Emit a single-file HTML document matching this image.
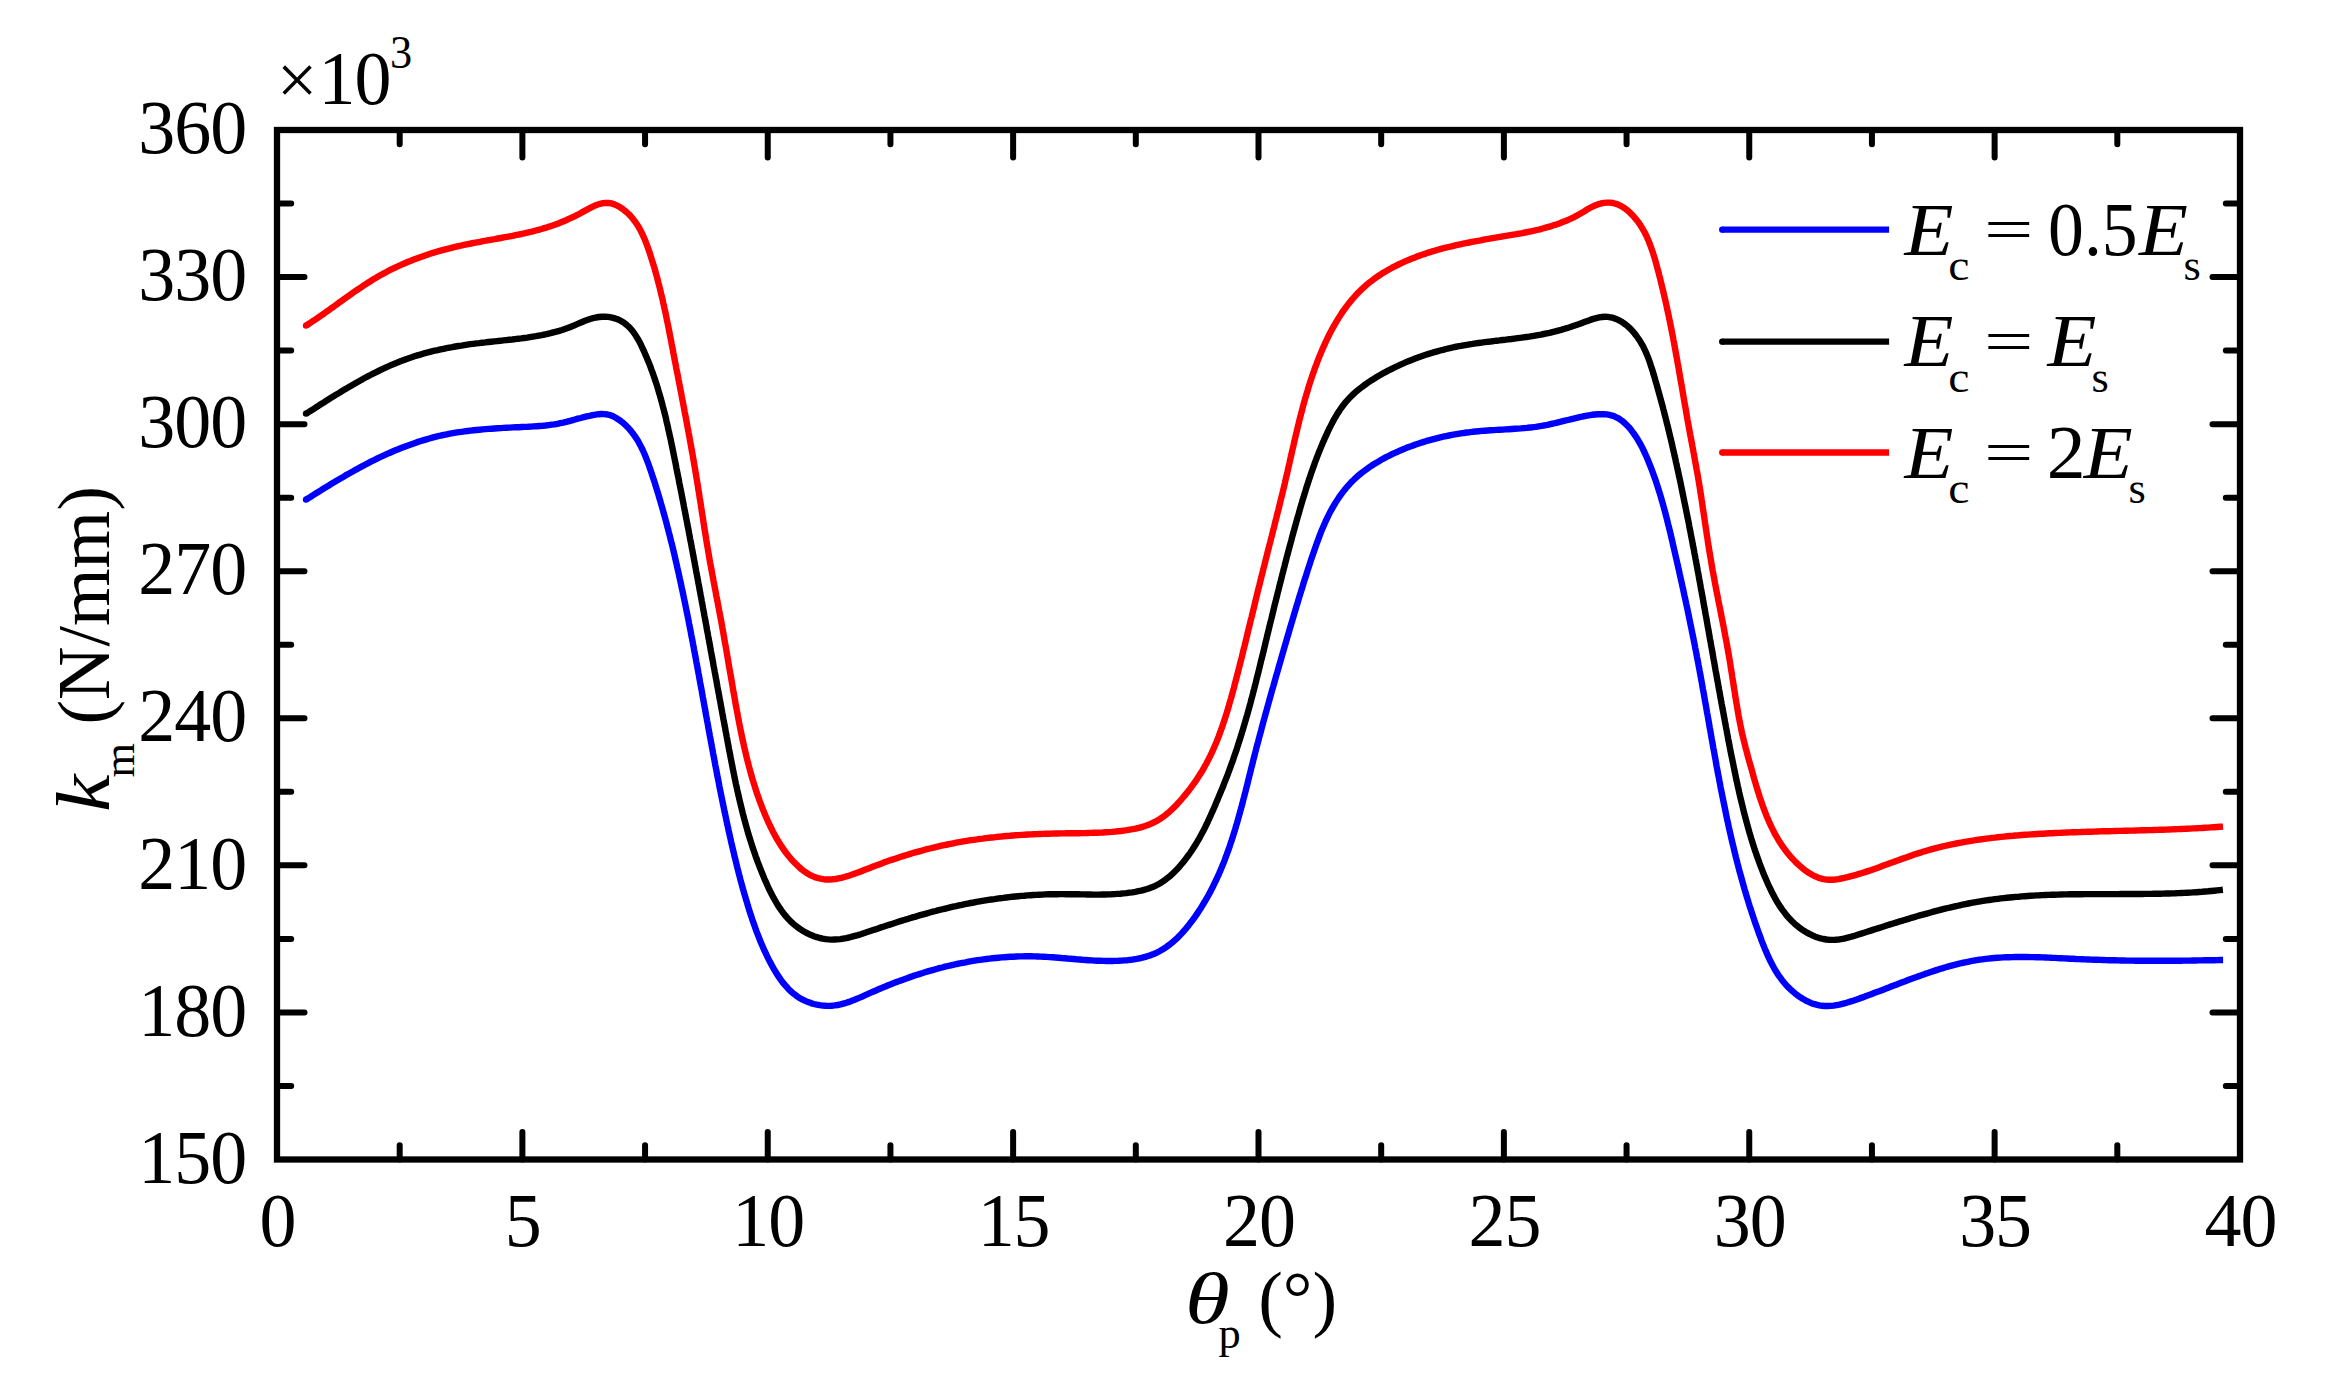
<!DOCTYPE html>
<html lang="en"><head><meta charset="utf-8"><title>Mesh stiffness</title>
<style>html,body{margin:0;padding:0;background:#fff}body{width:2325px;height:1397px;overflow:hidden}svg{display:block}text{font-family:"Liberation Serif",serif;fill:#000}.i{font-style:italic}</style></head><body>
<svg width="2325" height="1397" viewBox="0 0 2325 1397">
<rect width="2325" height="1397" fill="#fff"/>
<path d="M399.69 1159.50V1145.30M399.69 130.00V144.20M522.38 1159.50V1132.00M522.38 130.00V157.50M645.06 1159.50V1145.30M645.06 130.00V144.20M767.75 1159.50V1132.00M767.75 130.00V157.50M890.44 1159.50V1145.30M890.44 130.00V144.20M1013.12 1159.50V1132.00M1013.12 130.00V157.50M1135.81 1159.50V1145.30M1135.81 130.00V144.20M1258.50 1159.50V1132.00M1258.50 130.00V157.50M1381.19 1159.50V1145.30M1381.19 130.00V144.20M1503.88 1159.50V1132.00M1503.88 130.00V157.50M1626.56 1159.50V1145.30M1626.56 130.00V144.20M1749.25 1159.50V1132.00M1749.25 130.00V157.50M1871.94 1159.50V1145.30M1871.94 130.00V144.20M1994.62 1159.50V1132.00M1994.62 130.00V157.50M2117.31 1159.50V1145.30M2117.31 130.00V144.20M277.00 1085.96H291.20M2240.00 1085.96H2225.80M277.00 1012.43H304.50M2240.00 1012.43H2212.50M277.00 938.89H291.20M2240.00 938.89H2225.80M277.00 865.36H304.50M2240.00 865.36H2212.50M277.00 791.82H291.20M2240.00 791.82H2225.80M277.00 718.29H304.50M2240.00 718.29H2212.50M277.00 644.75H291.20M2240.00 644.75H2225.80M277.00 571.21H304.50M2240.00 571.21H2212.50M277.00 497.68H291.20M2240.00 497.68H2225.80M277.00 424.14H304.50M2240.00 424.14H2212.50M277.00 350.61H291.20M2240.00 350.61H2225.80M277.00 277.07H304.50M2240.00 277.07H2212.50M277.00 203.54H291.20M2240.00 203.54H2225.80" fill="none" stroke="#000" stroke-width="6.00" stroke-linecap="round"/>
<g fill="none" stroke-width="6.40" stroke-linejoin="round">
<path stroke="#0000ff" d="M306.1 499.6L308.6 498.1L311.1 496.5L313.6 494.9L316.1 493.3L318.7 491.7L321.2 490.1L323.7 488.5L326.3 487.0L328.9 485.4L331.4 483.8L334.0 482.3L336.6 480.7L339.2 479.2L341.8 477.7L344.4 476.2L347.0 474.6L349.6 473.2L352.3 471.7L354.9 470.2L357.6 468.8L360.2 467.3L362.9 465.9L365.5 464.5L368.2 463.1L370.9 461.7L373.6 460.4L376.3 459.0L379.0 457.7L381.8 456.4L384.5 455.2L387.2 453.9L390.0 452.7L392.7 451.5L395.5 450.3L398.3 449.2L401.1 448.1L403.9 447.0L406.7 445.9L409.5 444.9L412.3 443.9L415.1 442.9L418.0 441.9L420.8 441.0L423.7 440.1L426.5 439.3L429.4 438.5L432.3 437.7L435.2 436.9L438.1 436.2L441.0 435.5L443.9 434.9L446.9 434.3L449.8 433.7L452.8 433.2L455.7 432.7L458.7 432.2L461.6 431.8L464.6 431.4L467.6 431.0L470.6 430.6L473.6 430.3L476.6 430.0L479.6 429.7L482.6 429.4L485.6 429.1L488.6 428.9L491.6 428.7L494.6 428.5L497.6 428.3L500.6 428.1L503.6 427.9L506.7 427.7L509.7 427.6L512.7 427.4L515.7 427.3L518.7 427.2L521.7 427.0L524.7 426.9L527.7 426.8L530.7 426.6L533.7 426.4L536.7 426.2L539.6 426.0L542.6 425.8L545.6 425.5L548.5 425.1L551.5 424.7L554.4 424.3L557.4 423.8L560.3 423.2L563.2 422.6L566.2 421.9L569.1 421.1L572.0 420.3L574.9 419.5L577.8 418.7L580.8 418.0L583.7 417.2L586.7 416.4L589.6 415.8L592.6 415.1L595.6 414.6L598.6 414.2L601.6 414.0L604.5 414.1L607.5 414.5L610.3 415.2L613.1 416.3L615.8 417.8L618.4 419.4L620.9 421.2L623.3 423.1L625.5 425.1L627.6 427.2L629.6 429.4L631.5 431.6L633.3 434.0L635.0 436.4L636.6 438.8L638.2 441.3L639.6 443.9L641.0 446.6L642.3 449.2L643.6 452.0L644.8 454.7L645.9 457.5L647.0 460.3L648.1 463.2L649.1 466.0L650.1 468.9L651.1 471.8L652.1 474.7L653.0 477.6L654.0 480.4L654.9 483.3L655.8 486.2L656.7 489.1L657.6 492.0L658.5 494.9L659.3 497.8L660.2 500.7L661.0 503.6L661.9 506.5L662.7 509.4L663.5 512.3L664.3 515.2L665.1 518.1L665.9 521.0L666.7 523.9L667.4 526.8L668.2 529.7L668.9 532.6L669.7 535.5L670.4 538.4L671.1 541.3L671.9 544.2L672.6 547.1L673.3 550.0L674.0 553.0L674.7 555.9L675.3 558.8L676.0 561.7L676.7 564.6L677.3 567.5L678.0 570.5L678.7 573.4L679.3 576.3L679.9 579.2L680.6 582.2L681.2 585.1L681.8 588.0L682.5 591.0L683.1 593.9L683.7 596.8L684.3 599.8L684.9 602.7L685.5 605.6L686.1 608.6L686.7 611.5L687.3 614.4L687.9 617.4L688.5 620.3L689.0 623.3L689.6 626.2L690.2 629.2L690.8 632.1L691.3 635.1L691.9 638.0L692.5 641.0L693.0 643.9L693.6 646.9L694.1 649.8L694.7 652.8L695.2 655.7L695.8 658.7L696.3 661.6L696.9 664.6L697.4 667.5L698.0 670.5L698.5 673.4L699.1 676.4L699.6 679.4L700.1 682.3L700.7 685.3L701.2 688.2L701.8 691.2L702.3 694.1L702.8 697.1L703.4 700.1L703.9 703.0L704.4 706.0L705.0 708.9L705.5 711.9L706.0 714.9L706.6 717.8L707.1 720.8L707.7 723.7L708.2 726.7L708.7 729.7L709.3 732.6L709.8 735.6L710.4 738.5L710.9 741.5L711.5 744.4L712.0 747.4L712.6 750.4L713.1 753.3L713.7 756.3L714.2 759.2L714.8 762.2L715.3 765.1L715.9 768.1L716.5 771.0L717.0 774.0L717.6 777.0L718.2 779.9L718.8 782.9L719.3 785.8L719.9 788.8L720.5 791.7L721.1 794.6L721.7 797.6L722.3 800.5L722.9 803.5L723.5 806.4L724.1 809.4L724.7 812.3L725.4 815.3L726.0 818.2L726.6 821.1L727.2 824.1L727.9 827.0L728.5 829.9L729.2 832.9L729.8 835.8L730.5 838.7L731.1 841.7L731.8 844.6L732.5 847.5L733.2 850.4L733.9 853.4L734.5 856.3L735.3 859.2L736.0 862.1L736.7 865.0L737.4 868.0L738.2 870.9L738.9 873.8L739.7 876.7L740.4 879.6L741.2 882.5L742.0 885.4L742.8 888.3L743.6 891.1L744.4 894.0L745.3 896.9L746.1 899.8L747.0 902.6L747.8 905.5L748.7 908.4L749.6 911.2L750.5 914.1L751.5 916.9L752.4 919.8L753.4 922.6L754.4 925.4L755.4 928.3L756.4 931.1L757.5 933.9L758.6 936.7L759.7 939.5L760.8 942.2L762.0 945.0L763.2 947.8L764.4 950.5L765.7 953.2L767.0 956.0L768.3 958.7L769.7 961.4L771.2 964.1L772.6 966.7L774.1 969.4L775.7 972.0L777.3 974.6L779.0 977.1L780.7 979.6L782.5 982.1L784.4 984.4L786.4 986.7L788.4 988.9L790.5 991.0L792.7 992.9L795.1 994.8L797.5 996.6L800.0 998.2L802.6 999.6L805.3 1000.9L808.1 1002.1L810.9 1003.1L813.8 1004.0L816.8 1004.7L819.7 1005.2L822.7 1005.6L825.7 1005.8L828.7 1005.9L831.7 1005.7L834.6 1005.4L837.6 1005.0L840.5 1004.4L843.3 1003.6L846.2 1002.8L849.0 1001.9L851.9 1000.8L854.7 999.7L857.5 998.6L860.3 997.4L863.1 996.2L865.9 994.9L868.6 993.7L871.4 992.4L874.2 991.2L877.0 990.0L879.8 988.8L882.6 987.6L885.4 986.5L888.2 985.3L891.0 984.2L893.8 983.1L896.6 982.0L899.4 981.0L902.2 979.9L905.0 978.9L907.8 977.9L910.7 976.9L913.5 975.9L916.3 975.0L919.2 974.1L922.0 973.2L924.9 972.3L927.8 971.4L930.6 970.6L933.5 969.8L936.4 969.0L939.3 968.2L942.2 967.5L945.1 966.7L948.0 966.0L950.9 965.3L953.9 964.7L956.8 964.0L959.7 963.4L962.7 962.8L965.6 962.3L968.6 961.7L971.6 961.2L974.5 960.7L977.5 960.2L980.5 959.8L983.5 959.4L986.4 959.0L989.4 958.6L992.4 958.3L995.4 958.0L998.4 957.7L1001.4 957.4L1004.4 957.2L1007.4 957.0L1010.4 956.8L1013.4 956.7L1016.4 956.5L1019.4 956.4L1022.5 956.4L1025.5 956.3L1028.5 956.3L1031.5 956.3L1034.5 956.4L1037.5 956.5L1040.5 956.6L1043.5 956.7L1046.5 956.9L1049.5 957.1L1052.5 957.3L1055.5 957.5L1058.4 957.7L1061.4 958.0L1064.4 958.2L1067.4 958.5L1070.4 958.7L1073.4 959.0L1076.4 959.3L1079.4 959.5L1082.4 959.8L1085.4 960.0L1088.4 960.2L1091.4 960.4L1094.4 960.6L1097.4 960.7L1100.4 960.8L1103.4 960.9L1106.4 961.0L1109.4 961.0L1112.4 961.0L1115.5 960.9L1118.5 960.8L1121.5 960.6L1124.6 960.4L1127.6 960.2L1130.6 959.8L1133.6 959.4L1136.6 958.9L1139.5 958.3L1142.4 957.7L1145.3 956.9L1148.1 956.0L1150.9 955.1L1153.7 954.0L1156.4 952.8L1159.0 951.5L1161.6 950.0L1164.1 948.5L1166.5 946.9L1168.9 945.1L1171.3 943.3L1173.5 941.3L1175.8 939.3L1178.0 937.3L1180.1 935.1L1182.2 932.9L1184.2 930.6L1186.2 928.3L1188.1 925.9L1190.0 923.5L1191.9 921.1L1193.7 918.6L1195.5 916.1L1197.2 913.6L1198.9 911.0L1200.6 908.5L1202.2 905.9L1203.7 903.3L1205.3 900.7L1206.8 898.1L1208.3 895.5L1209.7 892.9L1211.1 890.2L1212.5 887.6L1213.8 884.9L1215.1 882.2L1216.4 879.5L1217.6 876.8L1218.9 874.1L1220.1 871.3L1221.2 868.6L1222.4 865.8L1223.5 863.1L1224.6 860.3L1225.6 857.5L1226.7 854.7L1227.7 851.9L1228.7 849.1L1229.7 846.3L1230.6 843.4L1231.6 840.6L1232.5 837.8L1233.4 834.9L1234.3 832.1L1235.2 829.2L1236.0 826.3L1236.9 823.4L1237.7 820.6L1238.5 817.7L1239.3 814.8L1240.1 811.9L1240.9 809.0L1241.7 806.1L1242.5 803.2L1243.2 800.3L1244.0 797.3L1244.7 794.4L1245.5 791.5L1246.2 788.6L1247.0 785.7L1247.7 782.7L1248.4 779.8L1249.1 776.9L1249.9 773.9L1250.6 771.0L1251.3 768.1L1252.1 765.2L1252.8 762.2L1253.5 759.3L1254.3 756.4L1255.0 753.5L1255.8 750.5L1256.5 747.6L1257.3 744.7L1258.1 741.8L1258.8 738.9L1259.6 736.0L1260.4 733.1L1261.2 730.1L1261.9 727.2L1262.7 724.3L1263.5 721.4L1264.3 718.5L1265.1 715.6L1265.9 712.7L1266.7 709.8L1267.5 706.9L1268.3 704.0L1269.1 701.1L1269.9 698.2L1270.7 695.3L1271.5 692.4L1272.3 689.5L1273.2 686.6L1274.0 683.8L1274.8 680.9L1275.6 678.0L1276.4 675.1L1277.3 672.2L1278.1 669.3L1278.9 666.5L1279.7 663.6L1280.6 660.7L1281.4 657.8L1282.2 654.9L1283.1 652.1L1283.9 649.2L1284.7 646.3L1285.6 643.5L1286.4 640.6L1287.2 637.7L1288.1 634.8L1288.9 632.0L1289.7 629.1L1290.6 626.3L1291.4 623.4L1292.3 620.5L1293.1 617.7L1294.0 614.8L1294.8 611.9L1295.7 609.1L1296.5 606.2L1297.4 603.4L1298.3 600.5L1299.1 597.6L1300.0 594.8L1300.9 591.9L1301.8 589.0L1302.7 586.2L1303.5 583.3L1304.4 580.4L1305.4 577.6L1306.3 574.7L1307.2 571.8L1308.1 568.9L1309.1 566.0L1310.0 563.2L1310.9 560.3L1311.9 557.4L1312.9 554.5L1313.9 551.6L1314.9 548.7L1315.9 545.9L1316.9 543.0L1318.0 540.1L1319.0 537.3L1320.1 534.4L1321.2 531.6L1322.4 528.8L1323.6 526.0L1324.8 523.3L1326.0 520.5L1327.3 517.8L1328.6 515.1L1330.0 512.4L1331.4 509.8L1332.9 507.2L1334.4 504.6L1335.9 502.1L1337.5 499.6L1339.1 497.2L1340.8 494.8L1342.6 492.4L1344.4 490.1L1346.3 487.8L1348.2 485.6L1350.2 483.4L1352.2 481.3L1354.4 479.2L1356.6 477.2L1358.8 475.2L1361.1 473.3L1363.5 471.5L1365.9 469.7L1368.4 467.9L1370.9 466.2L1373.4 464.5L1376.0 462.9L1378.6 461.4L1381.3 459.8L1383.9 458.4L1386.6 456.9L1389.4 455.6L1392.1 454.2L1394.9 452.9L1397.7 451.7L1400.4 450.4L1403.2 449.3L1406.0 448.1L1408.8 447.0L1411.7 446.0L1414.5 444.9L1417.3 444.0L1420.2 443.0L1423.0 442.1L1425.9 441.2L1428.7 440.4L1431.6 439.6L1434.5 438.8L1437.4 438.1L1440.3 437.4L1443.2 436.7L1446.1 436.1L1449.0 435.5L1451.9 434.9L1454.9 434.4L1457.8 433.9L1460.8 433.4L1463.7 433.0L1466.7 432.5L1469.6 432.2L1472.6 431.8L1475.6 431.5L1478.6 431.2L1481.6 430.9L1484.6 430.7L1487.6 430.5L1490.6 430.3L1493.7 430.1L1496.7 429.9L1499.7 429.7L1502.7 429.6L1505.8 429.4L1508.8 429.2L1511.8 429.0L1514.8 428.8L1517.8 428.6L1520.8 428.4L1523.8 428.1L1526.8 427.9L1529.8 427.5L1532.8 427.2L1535.7 426.8L1538.7 426.3L1541.6 425.9L1544.6 425.3L1547.5 424.8L1550.4 424.1L1553.3 423.5L1556.2 422.8L1559.1 422.1L1562.0 421.4L1564.9 420.7L1567.8 420.0L1570.7 419.3L1573.7 418.6L1576.7 417.9L1579.7 417.2L1582.7 416.5L1585.7 415.9L1588.7 415.3L1591.8 414.8L1594.8 414.5L1597.8 414.2L1600.7 414.1L1603.7 414.2L1606.6 414.4L1609.4 414.9L1612.1 415.6L1614.8 416.6L1617.4 417.8L1619.9 419.3L1622.3 421.0L1624.6 423.0L1626.8 425.1L1629.0 427.4L1631.0 429.8L1632.9 432.4L1634.8 435.0L1636.5 437.6L1638.2 440.3L1639.7 442.9L1641.2 445.6L1642.6 448.3L1643.9 451.0L1645.1 453.6L1646.3 456.3L1647.5 459.0L1648.6 461.7L1649.7 464.5L1650.8 467.2L1651.9 470.0L1652.9 472.8L1653.9 475.6L1654.9 478.4L1655.9 481.2L1656.8 484.0L1657.7 486.8L1658.6 489.7L1659.5 492.5L1660.4 495.4L1661.2 498.3L1662.1 501.2L1662.9 504.1L1663.7 507.0L1664.5 509.9L1665.3 512.8L1666.0 515.7L1666.8 518.6L1667.5 521.5L1668.2 524.5L1669.0 527.4L1669.7 530.3L1670.4 533.3L1671.1 536.2L1671.8 539.2L1672.5 542.1L1673.1 545.1L1673.8 548.0L1674.5 550.9L1675.2 553.9L1675.8 556.8L1676.5 559.8L1677.2 562.7L1677.8 565.6L1678.5 568.6L1679.2 571.5L1679.8 574.4L1680.5 577.4L1681.1 580.3L1681.8 583.2L1682.4 586.2L1683.1 589.1L1683.7 592.0L1684.3 595.0L1685.0 597.9L1685.6 600.8L1686.2 603.7L1686.9 606.7L1687.5 609.6L1688.1 612.5L1688.7 615.5L1689.3 618.4L1689.9 621.3L1690.5 624.3L1691.1 627.2L1691.7 630.1L1692.3 633.1L1692.9 636.0L1693.5 638.9L1694.1 641.9L1694.7 644.8L1695.2 647.8L1695.8 650.7L1696.4 653.6L1696.9 656.6L1697.5 659.5L1698.1 662.5L1698.6 665.4L1699.2 668.4L1699.7 671.3L1700.3 674.3L1700.8 677.2L1701.3 680.2L1701.9 683.2L1702.4 686.1L1702.9 689.1L1703.5 692.0L1704.0 695.0L1704.5 697.9L1705.0 700.9L1705.6 703.9L1706.1 706.8L1706.6 709.8L1707.1 712.8L1707.7 715.7L1708.2 718.7L1708.7 721.6L1709.2 724.6L1709.7 727.6L1710.3 730.5L1710.8 733.5L1711.3 736.5L1711.8 739.4L1712.4 742.4L1712.9 745.4L1713.4 748.3L1714.0 751.3L1714.5 754.3L1715.0 757.2L1715.6 760.2L1716.1 763.1L1716.6 766.1L1717.2 769.1L1717.7 772.0L1718.3 775.0L1718.9 777.9L1719.4 780.9L1720.0 783.9L1720.5 786.8L1721.1 789.8L1721.7 792.7L1722.3 795.7L1722.9 798.6L1723.5 801.6L1724.1 804.5L1724.7 807.5L1725.3 810.4L1725.9 813.3L1726.5 816.3L1727.1 819.2L1727.8 822.2L1728.4 825.1L1729.0 828.0L1729.7 831.0L1730.4 833.9L1731.0 836.8L1731.7 839.7L1732.4 842.7L1733.1 845.6L1733.8 848.5L1734.5 851.4L1735.2 854.3L1735.9 857.2L1736.7 860.2L1737.4 863.1L1738.2 866.0L1738.9 868.9L1739.7 871.8L1740.5 874.7L1741.3 877.5L1742.1 880.4L1742.9 883.3L1743.7 886.2L1744.5 889.1L1745.4 892.0L1746.2 894.8L1747.1 897.7L1748.0 900.6L1748.8 903.4L1749.7 906.3L1750.7 909.1L1751.6 912.0L1752.5 914.8L1753.5 917.7L1754.4 920.5L1755.4 923.4L1756.4 926.2L1757.4 929.0L1758.4 931.8L1759.4 934.7L1760.5 937.5L1761.5 940.3L1762.6 943.1L1763.7 945.9L1764.8 948.7L1766.0 951.4L1767.2 954.2L1768.4 956.9L1769.7 959.7L1771.0 962.3L1772.4 965.0L1773.8 967.6L1775.3 970.2L1776.9 972.8L1778.5 975.3L1780.3 977.7L1782.1 980.2L1784.0 982.5L1786.0 984.8L1788.1 987.1L1790.4 989.3L1792.7 991.4L1795.1 993.4L1797.5 995.3L1800.1 997.1L1802.7 998.8L1805.4 1000.3L1808.1 1001.7L1810.8 1002.9L1813.6 1003.9L1816.4 1004.7L1819.3 1005.4L1822.1 1005.8L1825.0 1006.0L1827.8 1006.0L1830.7 1005.9L1833.6 1005.6L1836.5 1005.1L1839.4 1004.6L1842.3 1003.9L1845.2 1003.2L1848.1 1002.3L1851.0 1001.4L1853.9 1000.5L1856.8 999.5L1859.7 998.4L1862.6 997.4L1865.5 996.3L1868.3 995.3L1871.2 994.2L1874.0 993.1L1876.9 992.0L1879.8 991.0L1882.6 989.9L1885.4 988.8L1888.3 987.7L1891.1 986.6L1893.9 985.5L1896.8 984.4L1899.6 983.3L1902.4 982.2L1905.3 981.2L1908.1 980.1L1910.9 979.0L1913.7 978.0L1916.6 977.0L1919.4 975.9L1922.2 974.9L1925.0 973.9L1927.9 973.0L1930.7 972.0L1933.5 971.1L1936.4 970.1L1939.2 969.2L1942.1 968.4L1944.9 967.5L1947.8 966.7L1950.6 965.9L1953.5 965.1L1956.4 964.4L1959.2 963.7L1962.1 963.0L1965.0 962.4L1967.9 961.8L1970.8 961.2L1973.7 960.7L1976.7 960.2L1979.6 959.7L1982.5 959.3L1985.5 958.9L1988.4 958.6L1991.4 958.3L1994.4 958.0L1997.3 957.8L2000.3 957.6L2003.3 957.4L2006.3 957.3L2009.3 957.2L2012.3 957.1L2015.3 957.0L2018.3 957.0L2021.4 957.0L2024.4 957.0L2027.4 957.0L2030.5 957.1L2033.5 957.1L2036.5 957.2L2039.6 957.3L2042.6 957.4L2045.6 957.5L2048.7 957.6L2051.7 957.8L2054.8 957.9L2057.8 958.1L2060.8 958.2L2063.9 958.4L2066.9 958.5L2069.9 958.7L2073.0 958.8L2076.0 959.0L2079.0 959.1L2082.0 959.2L2085.1 959.4L2088.1 959.5L2091.1 959.6L2094.1 959.7L2097.1 959.8L2100.1 959.9L2103.1 960.0L2106.1 960.1L2109.1 960.2L2112.1 960.3L2115.1 960.3L2118.0 960.4L2121.0 960.5L2124.0 960.5L2127.0 960.6L2130.0 960.6L2133.0 960.6L2135.9 960.7L2138.9 960.7L2141.9 960.7L2144.9 960.7L2147.9 960.8L2150.9 960.8L2153.8 960.8L2156.8 960.8L2159.8 960.8L2162.8 960.8L2165.8 960.8L2168.8 960.8L2171.8 960.7L2174.8 960.7L2177.7 960.7L2180.7 960.7L2183.7 960.6L2186.7 960.6L2189.8 960.6L2192.8 960.5L2195.8 960.5L2198.8 960.4L2201.8 960.4L2204.8 960.3L2207.9 960.3L2210.9 960.2L2213.9 960.2L2217.0 960.1L2220.0 960.0L2223.1 960.0"/>
<path stroke="#000000" d="M306.1 413.7L308.6 412.1L311.1 410.5L313.7 408.9L316.2 407.3L318.7 405.7L321.2 404.0L323.8 402.4L326.3 400.8L328.8 399.2L331.4 397.6L334.0 396.0L336.5 394.4L339.1 392.9L341.7 391.3L344.2 389.8L346.8 388.2L349.4 386.7L352.0 385.2L354.6 383.7L357.2 382.2L359.9 380.7L362.5 379.2L365.1 377.8L367.8 376.4L370.5 375.0L373.1 373.6L375.8 372.3L378.5 371.0L381.2 369.7L383.9 368.4L386.6 367.1L389.4 365.9L392.1 364.7L394.9 363.6L397.6 362.4L400.4 361.3L403.2 360.3L406.0 359.2L408.8 358.2L411.7 357.3L414.5 356.3L417.4 355.4L420.2 354.6L423.1 353.7L426.0 352.9L428.9 352.2L431.8 351.4L434.7 350.7L437.7 350.1L440.6 349.4L443.6 348.8L446.5 348.2L449.5 347.6L452.4 347.1L455.4 346.5L458.4 346.0L461.4 345.6L464.3 345.1L467.3 344.6L470.3 344.2L473.3 343.8L476.3 343.4L479.3 343.1L482.3 342.7L485.3 342.4L488.3 342.0L491.3 341.7L494.3 341.4L497.3 341.1L500.3 340.8L503.3 340.4L506.2 340.1L509.2 339.8L512.2 339.5L515.2 339.1L518.2 338.7L521.1 338.4L524.1 338.0L527.1 337.6L530.0 337.1L533.0 336.6L535.9 336.2L538.8 335.6L541.8 335.1L544.7 334.5L547.6 333.8L550.5 333.2L553.4 332.4L556.3 331.7L559.2 330.9L562.1 330.0L564.9 329.0L567.7 328.0L570.5 326.9L573.3 325.8L576.0 324.6L578.8 323.4L581.6 322.2L584.4 321.0L587.2 320.0L590.1 319.0L593.0 318.2L596.0 317.5L599.0 317.0L602.0 316.7L605.0 316.7L608.1 316.9L611.1 317.4L614.0 318.1L616.9 319.0L619.6 320.2L622.2 321.6L624.6 323.2L626.8 325.0L628.9 326.9L630.9 329.0L632.8 331.3L634.5 333.6L636.1 336.1L637.7 338.7L639.2 341.3L640.6 344.0L641.9 346.8L643.2 349.6L644.5 352.4L645.7 355.2L646.9 358.0L648.0 360.8L649.2 363.6L650.3 366.4L651.3 369.3L652.4 372.1L653.4 375.0L654.4 377.8L655.3 380.7L656.3 383.5L657.2 386.4L658.1 389.3L658.9 392.2L659.8 395.0L660.6 397.9L661.4 400.8L662.2 403.7L662.9 406.6L663.7 409.5L664.4 412.4L665.2 415.3L665.9 418.2L666.5 421.2L667.2 424.1L667.9 427.0L668.5 429.9L669.2 432.8L669.8 435.8L670.5 438.7L671.1 441.6L671.7 444.6L672.3 447.5L672.9 450.4L673.5 453.4L674.1 456.3L674.7 459.3L675.3 462.2L675.9 465.1L676.4 468.1L677.0 471.0L677.6 474.0L678.2 476.9L678.8 479.8L679.3 482.8L679.9 485.7L680.5 488.7L681.1 491.6L681.7 494.6L682.2 497.5L682.8 500.4L683.4 503.4L683.9 506.3L684.5 509.3L685.1 512.2L685.6 515.2L686.2 518.1L686.8 521.1L687.3 524.0L687.9 527.0L688.5 529.9L689.0 532.9L689.6 535.8L690.1 538.8L690.7 541.7L691.3 544.7L691.8 547.6L692.4 550.6L692.9 553.5L693.5 556.5L694.0 559.5L694.6 562.4L695.1 565.4L695.7 568.3L696.2 571.3L696.8 574.2L697.3 577.2L697.9 580.1L698.4 583.1L699.0 586.0L699.5 589.0L700.1 592.0L700.6 594.9L701.2 597.9L701.7 600.8L702.3 603.8L702.8 606.7L703.3 609.7L703.9 612.6L704.4 615.6L705.0 618.6L705.5 621.5L706.1 624.5L706.6 627.4L707.1 630.4L707.7 633.3L708.2 636.3L708.8 639.3L709.3 642.2L709.9 645.2L710.4 648.1L710.9 651.1L711.5 654.0L712.0 657.0L712.6 660.0L713.1 662.9L713.6 665.9L714.2 668.8L714.7 671.8L715.3 674.7L715.8 677.7L716.4 680.6L716.9 683.6L717.4 686.6L718.0 689.5L718.5 692.5L719.1 695.4L719.6 698.4L720.2 701.3L720.7 704.3L721.2 707.2L721.8 710.2L722.3 713.1L722.9 716.1L723.4 719.1L724.0 722.0L724.5 725.0L725.1 727.9L725.6 730.9L726.2 733.8L726.7 736.8L727.3 739.7L727.8 742.7L728.4 745.6L728.9 748.6L729.5 751.5L730.1 754.5L730.6 757.4L731.2 760.4L731.8 763.3L732.3 766.2L732.9 769.2L733.5 772.1L734.1 775.1L734.7 778.0L735.3 780.9L735.9 783.9L736.6 786.8L737.2 789.7L737.9 792.7L738.5 795.6L739.2 798.5L739.9 801.4L740.6 804.3L741.3 807.2L742.0 810.1L742.7 813.1L743.5 816.0L744.2 818.8L745.0 821.7L745.8 824.6L746.6 827.5L747.4 830.4L748.2 833.3L749.1 836.2L750.0 839.0L750.9 841.9L751.8 844.7L752.7 847.6L753.7 850.5L754.7 853.3L755.6 856.1L756.7 859.0L757.7 861.8L758.8 864.6L759.8 867.4L761.0 870.3L762.1 873.1L763.3 875.9L764.4 878.7L765.6 881.4L766.9 884.2L768.1 887.0L769.4 889.8L770.8 892.5L772.2 895.2L773.6 897.9L775.1 900.5L776.6 903.1L778.2 905.7L779.8 908.2L781.5 910.6L783.3 913.0L785.2 915.4L787.1 917.6L789.1 919.8L791.2 921.9L793.4 923.9L795.7 925.8L798.1 927.6L800.6 929.4L803.1 931.0L805.8 932.5L808.5 933.8L811.2 935.1L814.0 936.2L816.9 937.2L819.8 938.0L822.7 938.6L825.6 939.1L828.5 939.4L831.5 939.6L834.4 939.5L837.3 939.4L840.3 939.1L843.2 938.6L846.2 938.1L849.1 937.5L852.0 936.7L855.0 935.9L857.9 935.1L860.8 934.2L863.7 933.2L866.6 932.3L869.6 931.3L872.5 930.3L875.4 929.4L878.2 928.4L881.1 927.4L884.0 926.5L886.9 925.5L889.8 924.6L892.6 923.7L895.5 922.8L898.4 921.8L901.2 920.9L904.1 920.0L907.0 919.2L909.8 918.3L912.7 917.4L915.6 916.6L918.4 915.7L921.3 914.9L924.2 914.1L927.0 913.3L929.9 912.5L932.8 911.7L935.7 911.0L938.6 910.2L941.5 909.5L944.4 908.8L947.3 908.1L950.2 907.4L953.1 906.7L956.0 906.1L959.0 905.4L961.9 904.8L964.8 904.2L967.8 903.6L970.7 903.0L973.7 902.5L976.6 901.9L979.6 901.4L982.5 900.9L985.5 900.4L988.5 899.9L991.4 899.5L994.4 899.1L997.4 898.6L1000.4 898.2L1003.3 897.9L1006.3 897.5L1009.3 897.1L1012.3 896.8L1015.3 896.5L1018.3 896.2L1021.3 895.9L1024.3 895.7L1027.3 895.4L1030.3 895.2L1033.3 895.0L1036.3 894.9L1039.3 894.7L1042.3 894.6L1045.3 894.4L1048.3 894.3L1051.3 894.3L1054.3 894.2L1057.3 894.2L1060.3 894.1L1063.3 894.1L1066.4 894.2L1069.4 894.2L1072.4 894.2L1075.4 894.3L1078.4 894.3L1081.4 894.4L1084.4 894.4L1087.4 894.5L1090.4 894.5L1093.4 894.6L1096.4 894.6L1099.4 894.6L1102.4 894.5L1105.4 894.5L1108.4 894.4L1111.4 894.3L1114.4 894.1L1117.4 893.9L1120.4 893.7L1123.4 893.4L1126.4 893.1L1129.3 892.7L1132.3 892.3L1135.3 891.8L1138.3 891.2L1141.2 890.6L1144.1 889.8L1147.0 889.0L1149.8 888.1L1152.6 887.0L1155.3 885.8L1157.9 884.5L1160.5 883.0L1163.0 881.4L1165.5 879.6L1167.8 877.8L1170.2 875.9L1172.4 873.9L1174.6 871.8L1176.7 869.6L1178.8 867.3L1180.8 865.0L1182.8 862.7L1184.7 860.3L1186.5 857.9L1188.3 855.5L1190.1 853.0L1191.8 850.5L1193.4 848.0L1195.0 845.5L1196.6 842.9L1198.1 840.4L1199.6 837.8L1201.0 835.1L1202.4 832.5L1203.8 829.9L1205.2 827.2L1206.5 824.5L1207.8 821.8L1209.0 819.1L1210.3 816.4L1211.5 813.6L1212.7 810.9L1213.9 808.2L1215.1 805.4L1216.3 802.6L1217.5 799.9L1218.6 797.1L1219.8 794.3L1220.9 791.5L1222.1 788.8L1223.2 786.0L1224.3 783.2L1225.4 780.4L1226.5 777.6L1227.6 774.8L1228.6 772.0L1229.7 769.1L1230.7 766.3L1231.7 763.5L1232.8 760.7L1233.7 757.8L1234.7 755.0L1235.7 752.1L1236.7 749.3L1237.6 746.4L1238.5 743.6L1239.4 740.7L1240.3 737.9L1241.2 735.0L1242.1 732.1L1243.0 729.3L1243.8 726.4L1244.7 723.5L1245.5 720.6L1246.3 717.8L1247.2 714.9L1248.0 712.0L1248.8 709.1L1249.6 706.2L1250.4 703.3L1251.1 700.4L1251.9 697.5L1252.7 694.6L1253.4 691.7L1254.2 688.8L1254.9 685.9L1255.7 683.0L1256.4 680.1L1257.1 677.1L1257.9 674.2L1258.6 671.3L1259.3 668.4L1260.0 665.5L1260.7 662.6L1261.4 659.6L1262.2 656.7L1262.9 653.8L1263.6 650.9L1264.3 648.0L1265.0 645.0L1265.7 642.1L1266.4 639.2L1267.1 636.3L1267.8 633.3L1268.5 630.4L1269.2 627.5L1269.9 624.6L1270.6 621.7L1271.4 618.7L1272.1 615.8L1272.8 612.9L1273.5 610.0L1274.2 607.1L1274.9 604.1L1275.7 601.2L1276.4 598.3L1277.1 595.4L1277.8 592.5L1278.6 589.6L1279.3 586.6L1280.0 583.7L1280.8 580.8L1281.5 577.9L1282.2 575.0L1283.0 572.1L1283.7 569.2L1284.5 566.3L1285.2 563.3L1286.0 560.4L1286.7 557.5L1287.5 554.6L1288.3 551.7L1289.0 548.8L1289.8 545.9L1290.6 543.0L1291.4 540.1L1292.1 537.2L1292.9 534.3L1293.7 531.4L1294.5 528.6L1295.3 525.7L1296.1 522.8L1296.9 519.9L1297.7 517.0L1298.6 514.1L1299.4 511.2L1300.2 508.4L1301.0 505.5L1301.9 502.6L1302.7 499.7L1303.6 496.9L1304.5 494.0L1305.4 491.2L1306.2 488.3L1307.2 485.4L1308.1 482.6L1309.0 479.7L1310.0 476.9L1310.9 474.1L1311.9 471.2L1312.9 468.4L1313.9 465.6L1314.9 462.7L1316.0 459.9L1317.0 457.1L1318.1 454.3L1319.2 451.5L1320.4 448.7L1321.5 445.9L1322.7 443.1L1323.9 440.4L1325.1 437.6L1326.4 434.8L1327.6 432.1L1328.9 429.3L1330.3 426.6L1331.7 423.9L1333.1 421.2L1334.5 418.6L1336.1 416.0L1337.6 413.4L1339.3 410.9L1340.9 408.4L1342.7 406.0L1344.5 403.6L1346.4 401.3L1348.4 399.1L1350.4 397.0L1352.6 394.9L1354.7 392.9L1357.0 390.9L1359.3 389.0L1361.7 387.2L1364.1 385.4L1366.5 383.6L1369.0 381.9L1371.5 380.3L1374.1 378.7L1376.7 377.1L1379.3 375.6L1381.9 374.1L1384.5 372.6L1387.2 371.2L1389.8 369.8L1392.5 368.5L1395.2 367.1L1397.9 365.9L1400.6 364.6L1403.4 363.4L1406.1 362.2L1408.9 361.0L1411.7 359.9L1414.5 358.8L1417.3 357.8L1420.1 356.8L1422.9 355.8L1425.8 354.8L1428.7 353.9L1431.5 353.0L1434.4 352.1L1437.3 351.3L1440.2 350.5L1443.1 349.8L1446.0 349.0L1448.9 348.3L1451.9 347.7L1454.8 347.0L1457.8 346.4L1460.7 345.9L1463.7 345.3L1466.7 344.8L1469.6 344.3L1472.6 343.9L1475.6 343.4L1478.6 343.0L1481.6 342.6L1484.6 342.2L1487.6 341.8L1490.6 341.5L1493.6 341.1L1496.6 340.7L1499.6 340.4L1502.5 340.0L1505.5 339.7L1508.5 339.3L1511.5 339.0L1514.5 338.6L1517.4 338.2L1520.4 337.8L1523.4 337.4L1526.3 337.0L1529.2 336.6L1532.2 336.1L1535.1 335.6L1538.0 335.1L1540.9 334.6L1543.8 334.0L1546.7 333.4L1549.6 332.8L1552.4 332.1L1555.3 331.4L1558.2 330.6L1561.1 329.9L1563.9 329.0L1566.8 328.2L1569.7 327.3L1572.6 326.3L1575.5 325.3L1578.5 324.3L1581.4 323.2L1584.4 322.1L1587.4 321.0L1590.3 319.9L1593.3 318.9L1596.3 318.1L1599.2 317.4L1602.1 317.0L1605.0 316.8L1607.8 316.9L1610.6 317.3L1613.4 317.9L1616.0 318.9L1618.6 320.1L1621.2 321.5L1623.6 323.1L1626.0 324.9L1628.3 326.8L1630.5 328.9L1632.6 331.2L1634.6 333.5L1636.5 336.0L1638.3 338.5L1640.0 341.0L1641.5 343.6L1643.0 346.2L1644.3 348.9L1645.6 351.7L1646.8 354.4L1647.9 357.2L1649.0 360.0L1650.0 362.8L1650.9 365.7L1651.9 368.6L1652.8 371.4L1653.6 374.3L1654.5 377.2L1655.3 380.1L1656.2 383.0L1657.0 385.9L1657.8 388.8L1658.6 391.7L1659.4 394.6L1660.2 397.5L1661.0 400.4L1661.8 403.3L1662.6 406.2L1663.3 409.1L1664.1 412.0L1664.8 414.9L1665.6 417.9L1666.3 420.8L1667.0 423.7L1667.8 426.6L1668.5 429.5L1669.2 432.4L1669.9 435.4L1670.6 438.3L1671.3 441.2L1672.0 444.1L1672.6 447.0L1673.3 450.0L1674.0 452.9L1674.6 455.8L1675.3 458.7L1675.9 461.7L1676.6 464.6L1677.2 467.5L1677.9 470.5L1678.5 473.4L1679.1 476.3L1679.8 479.3L1680.4 482.2L1681.0 485.1L1681.6 488.1L1682.2 491.0L1682.8 494.0L1683.4 496.9L1684.0 499.8L1684.6 502.8L1685.2 505.7L1685.8 508.7L1686.4 511.6L1687.0 514.5L1687.6 517.5L1688.2 520.4L1688.8 523.4L1689.3 526.3L1689.9 529.3L1690.5 532.2L1691.0 535.2L1691.6 538.1L1692.2 541.1L1692.7 544.0L1693.3 547.0L1693.9 549.9L1694.4 552.9L1695.0 555.8L1695.5 558.8L1696.1 561.7L1696.6 564.7L1697.2 567.6L1697.7 570.6L1698.3 573.5L1698.8 576.5L1699.3 579.4L1699.9 582.4L1700.4 585.3L1700.9 588.3L1701.5 591.3L1702.0 594.2L1702.6 597.2L1703.1 600.1L1703.6 603.1L1704.1 606.0L1704.7 609.0L1705.2 612.0L1705.7 614.9L1706.3 617.9L1706.8 620.8L1707.3 623.8L1707.8 626.7L1708.4 629.7L1708.9 632.7L1709.4 635.6L1709.9 638.6L1710.5 641.5L1711.0 644.5L1711.5 647.4L1712.1 650.4L1712.6 653.4L1713.1 656.3L1713.6 659.3L1714.2 662.2L1714.7 665.2L1715.2 668.2L1715.7 671.1L1716.3 674.1L1716.8 677.0L1717.3 680.0L1717.9 682.9L1718.4 685.9L1718.9 688.9L1719.5 691.8L1720.0 694.8L1720.5 697.7L1721.1 700.7L1721.6 703.6L1722.2 706.6L1722.7 709.5L1723.3 712.5L1723.8 715.5L1724.4 718.4L1724.9 721.4L1725.5 724.3L1726.0 727.3L1726.6 730.2L1727.1 733.2L1727.7 736.1L1728.2 739.1L1728.8 742.0L1729.4 745.0L1729.9 747.9L1730.5 750.9L1731.1 753.8L1731.7 756.8L1732.3 759.7L1732.9 762.7L1733.5 765.6L1734.1 768.5L1734.7 771.5L1735.3 774.4L1735.9 777.4L1736.5 780.3L1737.2 783.2L1737.8 786.2L1738.5 789.1L1739.1 792.0L1739.8 794.9L1740.5 797.9L1741.2 800.8L1741.9 803.7L1742.6 806.6L1743.3 809.5L1744.0 812.4L1744.8 815.3L1745.5 818.2L1746.3 821.1L1747.1 824.0L1747.9 826.9L1748.7 829.8L1749.5 832.7L1750.4 835.6L1751.2 838.4L1752.1 841.3L1753.0 844.2L1753.9 847.0L1754.8 849.9L1755.8 852.7L1756.8 855.6L1757.8 858.4L1758.8 861.2L1759.8 864.0L1760.9 866.9L1762.0 869.7L1763.1 872.5L1764.2 875.2L1765.4 878.0L1766.6 880.8L1767.8 883.6L1769.1 886.3L1770.4 889.0L1771.7 891.8L1773.0 894.4L1774.5 897.1L1775.9 899.7L1777.4 902.3L1779.0 904.9L1780.7 907.4L1782.4 909.8L1784.2 912.2L1786.0 914.6L1787.9 916.9L1789.9 919.1L1792.0 921.2L1794.2 923.3L1796.5 925.3L1798.9 927.2L1801.4 929.1L1803.9 930.8L1806.6 932.4L1809.3 933.9L1812.0 935.2L1814.8 936.4L1817.7 937.5L1820.6 938.3L1823.5 939.0L1826.4 939.5L1829.3 939.8L1832.2 939.9L1835.2 939.8L1838.1 939.6L1841.0 939.1L1843.9 938.6L1846.8 937.9L1849.7 937.2L1852.6 936.3L1855.5 935.5L1858.4 934.5L1861.3 933.6L1864.2 932.7L1867.1 931.8L1870.0 930.9L1872.9 929.9L1875.7 929.0L1878.6 928.1L1881.5 927.2L1884.4 926.3L1887.3 925.3L1890.2 924.4L1893.1 923.5L1896.0 922.6L1898.8 921.7L1901.7 920.9L1904.6 920.0L1907.5 919.1L1910.4 918.2L1913.3 917.4L1916.2 916.5L1919.0 915.7L1921.9 914.9L1924.8 914.1L1927.7 913.3L1930.6 912.5L1933.5 911.7L1936.4 910.9L1939.3 910.2L1942.2 909.4L1945.1 908.7L1948.0 908.0L1950.9 907.3L1953.8 906.6L1956.7 906.0L1959.7 905.3L1962.6 904.7L1965.5 904.1L1968.4 903.5L1971.4 902.9L1974.3 902.4L1977.2 901.9L1980.2 901.4L1983.1 900.9L1986.1 900.4L1989.0 900.0L1992.0 899.6L1994.9 899.2L1997.9 898.8L2000.8 898.4L2003.8 898.1L2006.8 897.8L2009.7 897.5L2012.7 897.2L2015.7 896.9L2018.7 896.7L2021.7 896.4L2024.7 896.2L2027.6 896.0L2030.6 895.8L2033.6 895.6L2036.6 895.4L2039.6 895.3L2042.6 895.1L2045.6 895.0L2048.6 894.9L2051.6 894.8L2054.6 894.7L2057.6 894.6L2060.7 894.5L2063.7 894.4L2066.7 894.4L2069.7 894.3L2072.7 894.3L2075.7 894.2L2078.7 894.2L2081.8 894.2L2084.8 894.1L2087.8 894.1L2090.8 894.1L2093.8 894.1L2096.9 894.1L2099.9 894.1L2102.9 894.1L2105.9 894.1L2108.9 894.1L2112.0 894.1L2115.0 894.1L2118.0 894.1L2121.0 894.0L2124.1 894.0L2127.1 894.0L2130.1 894.0L2133.1 894.0L2136.1 894.0L2139.1 894.0L2142.2 894.0L2145.2 893.9L2148.2 893.9L2151.2 893.9L2154.2 893.8L2157.2 893.7L2160.2 893.7L2163.2 893.6L2166.2 893.5L2169.2 893.5L2172.3 893.4L2175.3 893.3L2178.2 893.1L2181.2 893.0L2184.2 892.9L2187.2 892.7L2190.2 892.6L2193.2 892.4L2196.2 892.2L2199.2 892.0L2202.2 891.8L2205.1 891.5L2208.1 891.3L2211.1 891.0L2214.0 890.7L2217.0 890.4L2220.0 890.1L2222.9 889.8"/>
<path stroke="#ff0000" d="M306.0 325.6L308.5 324.0L311.0 322.4L313.5 320.7L316.0 319.1L318.4 317.4L320.9 315.7L323.4 314.0L325.8 312.2L328.3 310.5L330.7 308.7L333.2 307.0L335.6 305.2L338.1 303.4L340.5 301.7L343.0 299.9L345.4 298.1L347.9 296.4L350.4 294.6L352.8 292.9L355.3 291.2L357.8 289.5L360.3 287.8L362.8 286.1L365.3 284.4L367.9 282.8L370.4 281.2L373.0 279.6L375.6 278.1L378.1 276.5L380.7 275.0L383.4 273.6L386.0 272.2L388.6 270.8L391.3 269.4L394.0 268.1L396.7 266.8L399.4 265.6L402.1 264.4L404.9 263.2L407.6 262.0L410.4 260.9L413.2 259.8L416.0 258.7L418.8 257.7L421.6 256.7L424.4 255.7L427.3 254.7L430.1 253.8L433.0 252.9L435.9 252.0L438.7 251.2L441.6 250.4L444.5 249.6L447.4 248.8L450.4 248.1L453.3 247.3L456.2 246.6L459.2 246.0L462.1 245.3L465.1 244.7L468.1 244.1L471.0 243.5L474.0 242.9L477.0 242.3L479.9 241.8L482.9 241.2L485.9 240.7L488.9 240.1L491.9 239.6L494.8 239.1L497.8 238.5L500.8 238.0L503.7 237.4L506.7 236.9L509.7 236.3L512.6 235.8L515.5 235.2L518.5 234.6L521.4 234.0L524.3 233.3L527.2 232.7L530.1 232.0L532.9 231.3L535.8 230.5L538.6 229.8L541.5 229.0L544.3 228.1L547.1 227.3L549.9 226.4L552.7 225.4L555.5 224.4L558.3 223.4L561.1 222.3L563.8 221.2L566.6 220.0L569.4 218.7L572.2 217.4L575.0 216.1L577.8 214.7L580.5 213.2L583.3 211.6L586.1 210.1L588.9 208.6L591.7 207.1L594.5 205.8L597.3 204.7L600.1 203.8L602.9 203.2L605.7 202.9L608.5 203.0L611.3 203.4L614.0 204.3L616.7 205.4L619.3 206.8L621.9 208.4L624.3 210.2L626.7 212.2L628.9 214.3L631.0 216.5L632.9 218.8L634.7 221.2L636.5 223.6L638.1 226.1L639.6 228.7L641.0 231.3L642.3 234.0L643.6 236.8L644.8 239.5L645.9 242.3L647.0 245.2L648.0 248.0L649.0 250.9L650.0 253.8L650.9 256.7L651.8 259.6L652.7 262.5L653.6 265.3L654.5 268.2L655.3 271.1L656.1 274.0L656.9 276.9L657.7 279.9L658.4 282.8L659.2 285.7L659.9 288.6L660.6 291.5L661.3 294.4L662.0 297.3L662.7 300.3L663.3 303.2L664.0 306.1L664.6 309.0L665.3 312.0L665.9 314.9L666.5 317.8L667.1 320.8L667.7 323.7L668.3 326.6L668.9 329.6L669.4 332.5L670.0 335.4L670.6 338.4L671.2 341.3L671.7 344.3L672.3 347.2L672.9 350.1L673.4 353.1L674.0 356.0L674.5 359.0L675.1 361.9L675.7 364.9L676.2 367.8L676.8 370.8L677.4 373.7L678.0 376.7L678.5 379.6L679.1 382.6L679.7 385.5L680.2 388.5L680.8 391.4L681.4 394.4L681.9 397.3L682.5 400.3L683.1 403.2L683.6 406.2L684.2 409.1L684.7 412.1L685.3 415.0L685.9 418.0L686.4 421.0L687.0 423.9L687.5 426.9L688.1 429.8L688.6 432.8L689.2 435.7L689.7 438.7L690.2 441.7L690.8 444.6L691.3 447.6L691.8 450.5L692.4 453.5L692.9 456.5L693.4 459.4L693.9 462.4L694.4 465.3L694.9 468.3L695.4 471.3L695.9 474.2L696.4 477.2L696.9 480.2L697.4 483.1L697.9 486.1L698.3 489.1L698.8 492.0L699.3 495.0L699.7 498.0L700.2 500.9L700.7 503.9L701.1 506.8L701.6 509.8L702.0 512.8L702.5 515.7L703.0 518.7L703.4 521.7L703.9 524.6L704.3 527.6L704.8 530.6L705.3 533.5L705.8 536.5L706.2 539.5L706.7 542.4L707.2 545.4L707.7 548.3L708.2 551.3L708.7 554.2L709.2 557.2L709.7 560.2L710.2 563.1L710.8 566.1L711.3 569.0L711.9 572.0L712.4 574.9L713.0 577.9L713.5 580.8L714.1 583.8L714.6 586.7L715.2 589.7L715.8 592.6L716.3 595.6L716.9 598.5L717.5 601.5L718.0 604.4L718.6 607.4L719.1 610.3L719.7 613.3L720.3 616.3L720.8 619.2L721.4 622.2L721.9 625.1L722.4 628.1L723.0 631.0L723.5 634.0L724.0 637.0L724.5 639.9L725.0 642.9L725.6 645.8L726.1 648.8L726.6 651.8L727.1 654.7L727.6 657.7L728.1 660.6L728.6 663.6L729.1 666.6L729.6 669.5L730.1 672.5L730.7 675.4L731.2 678.4L731.7 681.4L732.2 684.3L732.7 687.3L733.2 690.2L733.7 693.2L734.3 696.1L734.8 699.1L735.3 702.1L735.8 705.0L736.4 708.0L736.9 710.9L737.5 713.9L738.0 716.8L738.6 719.7L739.1 722.7L739.7 725.6L740.3 728.6L740.9 731.5L741.5 734.5L742.1 737.4L742.7 740.3L743.4 743.2L744.0 746.2L744.7 749.1L745.4 752.0L746.1 754.9L746.8 757.9L747.5 760.8L748.3 763.7L749.0 766.6L749.8 769.5L750.6 772.4L751.4 775.3L752.2 778.2L753.1 781.1L754.0 784.0L754.9 786.8L755.8 789.7L756.7 792.6L757.7 795.4L758.7 798.2L759.7 801.1L760.8 803.9L761.8 806.7L762.9 809.5L764.1 812.3L765.2 815.1L766.4 817.8L767.6 820.6L768.9 823.3L770.1 826.0L771.5 828.7L772.8 831.4L774.2 834.0L775.6 836.7L777.1 839.3L778.7 841.8L780.2 844.4L781.9 846.9L783.6 849.4L785.3 851.8L787.2 854.2L789.0 856.5L791.0 858.8L793.0 861.1L795.1 863.3L797.3 865.4L799.5 867.5L801.8 869.5L804.3 871.3L806.8 873.0L809.3 874.6L812.0 875.9L814.8 877.1L817.6 878.0L820.5 878.7L823.5 879.2L826.5 879.5L829.5 879.5L832.5 879.3L835.5 879.0L838.5 878.4L841.4 877.8L844.4 877.0L847.3 876.2L850.2 875.3L853.0 874.3L855.8 873.3L858.6 872.3L861.4 871.2L864.2 870.1L867.0 869.0L869.8 867.9L872.6 866.8L875.4 865.7L878.2 864.7L881.0 863.7L883.9 862.6L886.7 861.6L889.5 860.6L892.4 859.6L895.2 858.7L898.1 857.7L900.9 856.8L903.8 855.9L906.7 855.0L909.5 854.1L912.4 853.2L915.3 852.4L918.2 851.6L921.1 850.8L924.0 850.0L926.9 849.2L929.8 848.5L932.7 847.8L935.6 847.1L938.6 846.4L941.5 845.7L944.4 845.1L947.4 844.5L950.3 843.9L953.3 843.3L956.2 842.7L959.2 842.2L962.1 841.7L965.1 841.2L968.0 840.7L971.0 840.2L974.0 839.8L976.9 839.4L979.9 838.9L982.9 838.6L985.9 838.2L988.9 837.8L991.8 837.5L994.8 837.2L997.8 836.8L1000.8 836.6L1003.8 836.3L1006.8 836.0L1009.8 835.8L1012.8 835.5L1015.8 835.3L1018.8 835.1L1021.8 834.9L1024.8 834.7L1027.8 834.5L1030.8 834.4L1033.8 834.2L1036.8 834.1L1039.8 834.0L1042.8 833.9L1045.8 833.8L1048.8 833.7L1051.8 833.6L1054.8 833.5L1057.8 833.5L1060.8 833.4L1063.8 833.4L1066.8 833.3L1069.9 833.3L1072.9 833.3L1075.9 833.2L1078.8 833.2L1081.8 833.1L1084.8 833.1L1087.8 833.0L1090.8 832.9L1093.8 832.8L1096.8 832.7L1099.8 832.6L1102.8 832.5L1105.8 832.3L1108.8 832.1L1111.8 831.9L1114.8 831.6L1117.8 831.3L1120.8 831.0L1123.8 830.6L1126.8 830.2L1129.8 829.7L1132.8 829.2L1135.7 828.6L1138.6 827.9L1141.5 827.1L1144.4 826.2L1147.2 825.3L1149.9 824.2L1152.6 823.0L1155.3 821.7L1157.9 820.2L1160.4 818.7L1162.9 817.0L1165.3 815.2L1167.6 813.3L1169.9 811.3L1172.1 809.2L1174.3 807.1L1176.5 804.9L1178.5 802.6L1180.6 800.3L1182.6 798.0L1184.6 795.7L1186.5 793.3L1188.4 790.9L1190.2 788.6L1192.0 786.2L1193.8 783.7L1195.5 781.3L1197.2 778.8L1198.8 776.3L1200.4 773.8L1202.0 771.3L1203.5 768.7L1204.9 766.1L1206.4 763.5L1207.7 760.9L1209.1 758.2L1210.4 755.6L1211.7 752.9L1212.9 750.2L1214.1 747.4L1215.3 744.7L1216.5 741.9L1217.6 739.2L1218.7 736.4L1219.7 733.6L1220.8 730.7L1221.8 727.9L1222.8 725.1L1223.7 722.2L1224.7 719.4L1225.6 716.5L1226.5 713.6L1227.4 710.7L1228.3 707.8L1229.1 704.9L1229.9 702.0L1230.8 699.1L1231.6 696.2L1232.4 693.3L1233.2 690.4L1234.0 687.5L1234.7 684.5L1235.5 681.6L1236.3 678.7L1237.0 675.8L1237.8 672.9L1238.5 669.9L1239.3 667.0L1240.0 664.1L1240.7 661.2L1241.5 658.3L1242.2 655.4L1242.9 652.4L1243.6 649.5L1244.4 646.6L1245.1 643.7L1245.8 640.8L1246.5 637.9L1247.2 635.0L1247.9 632.0L1248.6 629.1L1249.3 626.2L1250.0 623.3L1250.7 620.4L1251.5 617.5L1252.2 614.6L1252.9 611.7L1253.6 608.8L1254.3 605.9L1255.0 603.0L1255.7 600.0L1256.4 597.1L1257.1 594.2L1257.8 591.3L1258.5 588.4L1259.3 585.5L1260.0 582.6L1260.7 579.7L1261.4 576.8L1262.2 573.9L1262.9 571.0L1263.6 568.0L1264.4 565.1L1265.1 562.2L1265.8 559.3L1266.6 556.4L1267.3 553.5L1268.0 550.6L1268.8 547.7L1269.5 544.8L1270.3 541.8L1271.0 538.9L1271.8 536.0L1272.5 533.1L1273.2 530.2L1274.0 527.3L1274.7 524.4L1275.4 521.4L1276.2 518.5L1276.9 515.6L1277.6 512.7L1278.4 509.8L1279.1 506.8L1279.8 503.9L1280.5 501.0L1281.2 498.1L1282.0 495.2L1282.7 492.2L1283.4 489.3L1284.1 486.4L1284.8 483.4L1285.4 480.5L1286.1 477.6L1286.8 474.7L1287.5 471.7L1288.1 468.8L1288.8 465.9L1289.5 462.9L1290.1 460.0L1290.8 457.1L1291.5 454.1L1292.1 451.2L1292.8 448.3L1293.5 445.4L1294.1 442.4L1294.8 439.5L1295.5 436.6L1296.2 433.7L1296.9 430.7L1297.6 427.8L1298.3 424.9L1299.0 422.0L1299.7 419.1L1300.5 416.2L1301.2 413.3L1302.0 410.4L1302.7 407.5L1303.5 404.6L1304.3 401.7L1305.1 398.8L1306.0 395.9L1306.8 393.1L1307.7 390.2L1308.5 387.3L1309.4 384.5L1310.3 381.6L1311.3 378.7L1312.2 375.9L1313.2 373.1L1314.2 370.2L1315.2 367.4L1316.3 364.6L1317.3 361.8L1318.4 359.0L1319.5 356.2L1320.7 353.4L1321.9 350.6L1323.1 347.8L1324.3 345.1L1325.5 342.3L1326.8 339.6L1328.2 336.8L1329.5 334.1L1330.9 331.5L1332.3 328.8L1333.8 326.2L1335.3 323.6L1336.8 321.0L1338.4 318.4L1340.0 315.9L1341.6 313.4L1343.3 310.9L1345.0 308.5L1346.8 306.1L1348.6 303.7L1350.5 301.4L1352.4 299.1L1354.4 296.9L1356.4 294.7L1358.4 292.5L1360.5 290.4L1362.7 288.4L1364.9 286.4L1367.1 284.4L1369.4 282.5L1371.8 280.7L1374.2 278.9L1376.6 277.2L1379.1 275.5L1381.6 273.8L1384.2 272.2L1386.8 270.7L1389.4 269.2L1392.1 267.7L1394.8 266.3L1397.5 265.0L1400.3 263.6L1403.0 262.4L1405.8 261.1L1408.6 259.9L1411.4 258.8L1414.3 257.7L1417.1 256.6L1419.9 255.5L1422.8 254.5L1425.7 253.6L1428.5 252.6L1431.4 251.7L1434.2 250.9L1437.1 250.0L1440.0 249.2L1442.9 248.4L1445.8 247.7L1448.7 247.0L1451.6 246.3L1454.5 245.6L1457.4 244.9L1460.3 244.3L1463.2 243.7L1466.1 243.1L1469.1 242.5L1472.0 241.9L1474.9 241.3L1477.9 240.8L1480.8 240.3L1483.7 239.7L1486.7 239.2L1489.6 238.7L1492.6 238.2L1495.6 237.7L1498.5 237.2L1501.5 236.7L1504.5 236.2L1507.4 235.7L1510.4 235.2L1513.4 234.7L1516.4 234.2L1519.3 233.6L1522.3 233.1L1525.3 232.5L1528.2 231.9L1531.2 231.3L1534.1 230.7L1537.0 230.0L1539.9 229.3L1542.8 228.5L1545.7 227.7L1548.6 226.9L1551.5 226.1L1554.3 225.1L1557.1 224.2L1559.9 223.2L1562.7 222.1L1565.5 221.0L1568.2 219.8L1570.9 218.6L1573.6 217.3L1576.3 215.9L1578.9 214.4L1581.5 212.9L1584.1 211.4L1586.7 209.8L1589.3 208.3L1592.1 206.8L1594.9 205.5L1597.8 204.4L1600.9 203.5L1604.0 202.9L1607.1 202.6L1610.1 202.6L1613.0 203.0L1615.9 203.8L1618.6 204.8L1621.3 206.1L1623.8 207.7L1626.2 209.4L1628.5 211.3L1630.7 213.4L1632.8 215.5L1634.8 217.8L1636.7 220.1L1638.5 222.4L1640.2 224.9L1641.7 227.4L1643.2 229.9L1644.7 232.5L1646.0 235.2L1647.3 237.9L1648.5 240.7L1649.6 243.5L1650.7 246.3L1651.7 249.2L1652.7 252.0L1653.6 254.9L1654.5 257.9L1655.4 260.8L1656.2 263.7L1657.0 266.7L1657.8 269.6L1658.6 272.6L1659.3 275.5L1660.1 278.4L1660.8 281.4L1661.5 284.3L1662.2 287.2L1662.9 290.1L1663.6 293.1L1664.3 296.0L1665.0 298.9L1665.6 301.8L1666.3 304.7L1666.9 307.7L1667.5 310.6L1668.2 313.5L1668.8 316.4L1669.4 319.3L1670.0 322.2L1670.6 325.2L1671.2 328.1L1671.7 331.0L1672.3 333.9L1672.9 336.9L1673.4 339.8L1674.0 342.7L1674.5 345.7L1675.1 348.6L1675.6 351.6L1676.1 354.5L1676.7 357.5L1677.2 360.4L1677.7 363.4L1678.3 366.3L1678.8 369.3L1679.3 372.3L1679.8 375.2L1680.3 378.2L1680.8 381.2L1681.4 384.1L1681.9 387.1L1682.4 390.1L1682.9 393.1L1683.4 396.0L1683.9 399.0L1684.4 402.0L1684.9 405.0L1685.5 407.9L1686.0 410.9L1686.5 413.9L1687.0 416.8L1687.5 419.8L1688.1 422.8L1688.6 425.7L1689.1 428.7L1689.7 431.6L1690.2 434.6L1690.8 437.5L1691.3 440.5L1691.9 443.4L1692.4 446.4L1693.0 449.3L1693.5 452.3L1694.1 455.2L1694.6 458.2L1695.1 461.1L1695.7 464.0L1696.2 467.0L1696.7 469.9L1697.3 472.9L1697.8 475.8L1698.3 478.8L1698.8 481.8L1699.3 484.7L1699.8 487.7L1700.2 490.6L1700.7 493.6L1701.2 496.6L1701.6 499.5L1702.1 502.5L1702.5 505.5L1702.9 508.5L1703.4 511.4L1703.8 514.4L1704.3 517.4L1704.7 520.4L1705.1 523.3L1705.6 526.3L1706.0 529.3L1706.5 532.3L1706.9 535.3L1707.4 538.2L1707.8 541.2L1708.3 544.2L1708.7 547.1L1709.2 550.1L1709.7 553.1L1710.2 556.0L1710.7 559.0L1711.2 562.0L1711.7 564.9L1712.2 567.9L1712.7 570.8L1713.3 573.8L1713.8 576.7L1714.4 579.7L1714.9 582.6L1715.5 585.6L1716.0 588.5L1716.6 591.5L1717.2 594.4L1717.8 597.4L1718.3 600.3L1718.9 603.2L1719.5 606.2L1720.1 609.1L1720.7 612.1L1721.2 615.0L1721.8 617.9L1722.4 620.9L1723.0 623.8L1723.6 626.8L1724.1 629.7L1724.7 632.7L1725.2 635.6L1725.8 638.6L1726.4 641.5L1726.9 644.5L1727.4 647.5L1728.0 650.4L1728.5 653.4L1729.0 656.3L1729.5 659.3L1730.0 662.3L1730.5 665.3L1730.9 668.2L1731.4 671.2L1731.9 674.2L1732.3 677.2L1732.8 680.2L1733.3 683.1L1733.7 686.1L1734.2 689.1L1734.7 692.1L1735.1 695.1L1735.6 698.0L1736.1 701.0L1736.6 704.0L1737.1 706.9L1737.6 709.9L1738.1 712.9L1738.6 715.8L1739.2 718.8L1739.7 721.7L1740.3 724.6L1740.9 727.6L1741.5 730.5L1742.1 733.4L1742.8 736.3L1743.5 739.2L1744.2 742.1L1744.9 744.9L1745.6 747.8L1746.4 750.7L1747.2 753.6L1747.9 756.4L1748.7 759.3L1749.5 762.2L1750.3 765.1L1751.2 767.9L1752.0 770.8L1752.8 773.7L1753.6 776.7L1754.4 779.6L1755.3 782.5L1756.1 785.4L1757.0 788.3L1757.9 791.2L1758.8 794.1L1759.7 797.0L1760.7 799.9L1761.7 802.8L1762.7 805.7L1763.7 808.5L1764.8 811.3L1765.9 814.2L1767.0 817.0L1768.2 819.7L1769.4 822.5L1770.6 825.2L1771.9 827.9L1773.3 830.6L1774.6 833.3L1776.1 835.9L1777.6 838.5L1779.1 841.0L1780.7 843.5L1782.3 846.0L1784.1 848.4L1785.8 850.8L1787.7 853.2L1789.6 855.5L1791.5 857.7L1793.6 859.9L1795.7 862.1L1797.9 864.2L1800.1 866.2L1802.4 868.2L1804.8 870.1L1807.3 871.8L1809.9 873.5L1812.5 875.0L1815.1 876.3L1817.8 877.4L1820.6 878.4L1823.4 879.1L1826.3 879.6L1829.2 879.8L1832.2 879.8L1835.2 879.5L1838.3 879.1L1841.3 878.5L1844.3 877.9L1847.4 877.2L1850.3 876.4L1853.3 875.6L1856.3 874.8L1859.2 873.9L1862.1 873.0L1865.0 872.1L1867.9 871.1L1870.8 870.2L1873.6 869.2L1876.5 868.2L1879.3 867.2L1882.2 866.1L1885.0 865.1L1887.8 864.1L1890.6 863.0L1893.4 862.0L1896.2 860.9L1899.0 859.9L1901.9 858.9L1904.7 857.9L1907.5 856.9L1910.3 855.9L1913.1 854.9L1915.9 854.0L1918.8 853.1L1921.6 852.2L1924.5 851.3L1927.3 850.5L1930.2 849.7L1933.0 848.9L1935.9 848.1L1938.8 847.4L1941.7 846.7L1944.6 846.0L1947.5 845.3L1950.5 844.7L1953.4 844.1L1956.3 843.5L1959.3 842.9L1962.2 842.4L1965.1 841.8L1968.1 841.3L1971.1 840.8L1974.0 840.4L1977.0 839.9L1980.0 839.5L1982.9 839.1L1985.9 838.7L1988.9 838.3L1991.9 837.9L1994.9 837.6L1997.9 837.2L2000.9 836.9L2003.9 836.6L2006.9 836.3L2009.9 836.0L2012.9 835.8L2015.9 835.5L2018.9 835.3L2021.9 835.0L2024.9 834.8L2027.9 834.6L2030.9 834.4L2033.9 834.2L2037.0 834.0L2040.0 833.8L2043.0 833.7L2046.0 833.5L2049.0 833.3L2052.0 833.2L2055.0 833.0L2058.0 832.9L2061.0 832.8L2064.0 832.6L2067.0 832.5L2070.0 832.4L2073.0 832.3L2076.0 832.2L2079.0 832.1L2082.0 832.0L2085.0 831.9L2088.0 831.8L2091.0 831.7L2094.0 831.6L2097.0 831.5L2100.0 831.4L2103.0 831.3L2106.0 831.3L2109.0 831.2L2112.0 831.1L2115.0 831.0L2118.0 830.9L2121.0 830.9L2124.0 830.8L2127.0 830.7L2130.0 830.6L2133.0 830.6L2136.0 830.5L2139.0 830.4L2142.0 830.3L2145.0 830.2L2148.0 830.1L2151.0 830.1L2154.0 830.0L2157.0 829.9L2160.0 829.8L2162.9 829.7L2165.9 829.6L2168.9 829.5L2171.9 829.4L2174.9 829.2L2177.9 829.1L2180.9 829.0L2183.9 828.9L2186.9 828.7L2189.9 828.6L2193.0 828.4L2196.0 828.3L2199.0 828.1L2202.0 828.0L2205.0 827.8L2208.0 827.6L2211.0 827.4L2214.0 827.2L2217.0 827.0L2220.0 826.8L2223.0 826.6"/>
<circle cx="306.0" cy="499.6" r="3.20" fill="#0000ff" stroke="none"/>
<circle cx="306.0" cy="413.6" r="3.20" fill="#000000" stroke="none"/>
<circle cx="306.0" cy="325.6" r="3.20" fill="#ff0000" stroke="none"/>
</g>
<rect x="277.00" y="130.00" width="1963.00" height="1029.50" fill="none" stroke="#000" stroke-width="6.30"/>
<g>
<text transform="translate(277.50 1246.20) scale(1 1.015)" font-size="74" text-anchor="middle" letter-spacing="-1">0</text>
<text transform="translate(522.88 1246.20) scale(1 1.015)" font-size="74" text-anchor="middle" letter-spacing="-1">5</text>
<text transform="translate(768.25 1246.20) scale(1 1.015)" font-size="74" text-anchor="middle" letter-spacing="-1">10</text>
<text transform="translate(1013.62 1246.20) scale(1 1.015)" font-size="74" text-anchor="middle" letter-spacing="-1">15</text>
<text transform="translate(1259.00 1246.20) scale(1 1.015)" font-size="74" text-anchor="middle" letter-spacing="-1">20</text>
<text transform="translate(1504.38 1246.20) scale(1 1.015)" font-size="74" text-anchor="middle" letter-spacing="-1">25</text>
<text transform="translate(1749.75 1246.20) scale(1 1.015)" font-size="74" text-anchor="middle" letter-spacing="-1">30</text>
<text transform="translate(1995.12 1246.20) scale(1 1.015)" font-size="74" text-anchor="middle" letter-spacing="-1">35</text>
<text transform="translate(2240.50 1246.20) scale(1 1.015)" font-size="74" text-anchor="middle" letter-spacing="-1">40</text>
<text transform="translate(246.20 1182.70) scale(1 1.015)" font-size="74" text-anchor="end" letter-spacing="-1">150</text>
<text transform="translate(246.20 1035.63) scale(1 1.015)" font-size="74" text-anchor="end" letter-spacing="-1">180</text>
<text transform="translate(246.20 888.56) scale(1 1.015)" font-size="74" text-anchor="end" letter-spacing="-1">210</text>
<text transform="translate(246.20 741.49) scale(1 1.015)" font-size="74" text-anchor="end" letter-spacing="-1">240</text>
<text transform="translate(246.20 594.41) scale(1 1.015)" font-size="74" text-anchor="end" letter-spacing="-1">270</text>
<text transform="translate(246.20 447.34) scale(1 1.015)" font-size="74" text-anchor="end" letter-spacing="-1">300</text>
<text transform="translate(246.20 300.27) scale(1 1.015)" font-size="74" text-anchor="end" letter-spacing="-1">330</text>
<text transform="translate(246.20 153.20) scale(1 1.015)" font-size="74" text-anchor="end" letter-spacing="-1">360</text>
<text transform="translate(276.70 104.10)" font-size="72">×</text>
<text transform="translate(318.60 104.10) scale(1 1.015)" font-size="74" letter-spacing="-1">10</text>
<text transform="translate(389.90 67.60) scale(1 1.05)" font-size="44.4">3</text>
<text transform="translate(1185.00 1323.00) scale(1.232 0.962)" font-size="74" class="i">θ</text>
<text transform="translate(1218.60 1347.50)" font-size="44.4">p</text>
<text transform="translate(1258.20 1323.00)" font-size="74">(°)</text>
<text transform="translate(108.70 812.10) rotate(-90) scale(1.14 1.03)" font-size="74" class="i">k</text>
<text transform="translate(133.70 777.60) rotate(-90)" font-size="44.4">m</text>
<text transform="translate(108.70 724.60) rotate(-90)" font-size="74">(N/mm)</text>
<path d="M1722.2 229.7H1889.1" stroke="#0000ff" stroke-width="6.3" fill="none"/><circle cx="1722.2" cy="229.7" r="3.15" fill="#0000ff"/>
<text transform="translate(1904.40 254.70) scale(1.083 1)" font-size="74" class="i">E</text>
<text transform="translate(1948.20 280.30) scale(1.075 1)" font-size="44.4">c</text>
<text transform="translate(1984.00 249.30) scale(1.185 0.8)" font-size="74">=</text>
<text transform="translate(2048.10 254.70) scale(0.969 1.03)" font-size="74">0.5</text>
<text transform="translate(2139.10 254.70) scale(1.083 1)" font-size="74" class="i">E</text>
<text transform="translate(2183.50 280.30)" font-size="44.4">s</text>
<path d="M1722.2 341.7H1889.1" stroke="#000000" stroke-width="6.3" fill="none"/><circle cx="1722.2" cy="341.7" r="3.15" fill="#000000"/>
<text transform="translate(1904.40 365.90) scale(1.083 1)" font-size="74" class="i">E</text>
<text transform="translate(1948.20 391.50) scale(1.075 1)" font-size="44.4">c</text>
<text transform="translate(1984.00 360.50) scale(1.185 0.8)" font-size="74">=</text>
<text transform="translate(2047.50 365.90) scale(1.083 1)" font-size="74" class="i">E</text>
<text transform="translate(2091.50 391.50)" font-size="44.4">s</text>
<path d="M1722.2 452.5H1889.1" stroke="#ff0000" stroke-width="6.3" fill="none"/><circle cx="1722.2" cy="452.5" r="3.15" fill="#ff0000"/>
<text transform="translate(1904.40 477.60) scale(1.083 1)" font-size="74" class="i">E</text>
<text transform="translate(1948.20 503.20) scale(1.075 1)" font-size="44.4">c</text>
<text transform="translate(1984.00 472.20) scale(1.185 0.8)" font-size="74">=</text>
<text transform="translate(2046.70 477.60) scale(1.05 1.03)" font-size="74">2</text>
<text transform="translate(2083.70 477.60) scale(1.083 1)" font-size="74" class="i">E</text>
<text transform="translate(2128.50 503.20)" font-size="44.4">s</text>
</g>
</svg></body></html>
